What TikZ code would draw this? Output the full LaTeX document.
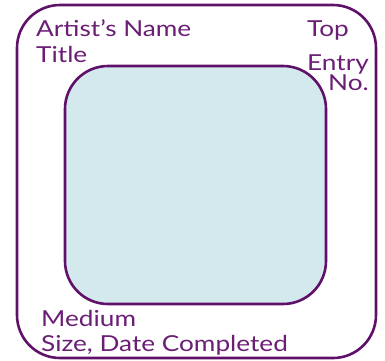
\documentclass[tikz,border=0pt]{standalone}
\usepackage{fontspec}
\setmainfont[FakeStretch=1.19]{Lato}
\definecolor{framepurple}{HTML}{5F1068}
\definecolor{textpurple}{HTML}{6A1E74}
\definecolor{panelblue}{HTML}{D3E9EE}
\begin{document}
\begin{tikzpicture}[x=1pt,y=-1pt,
  frame/.style={draw=framepurple,line width=2.6pt,rounded corners=43pt,inner sep=0pt},
  lbl/.style={text=textpurple,font=\fontsize{22}{25}\selectfont,inner sep=0pt}]
\useasboundingbox (0,0) rectangle (385,360);
\node[frame,minimum width=359pt,minimum height=353pt] (outer) at (196.5,181.5) {};
\node[frame,fill=panelblue,minimum width=261pt,minimum height=238pt] (inner) at (195.5,185) {};
\node[lbl,anchor=base west] (artist) at (36,36) {Artist’s Name};
\node[lbl,anchor=base west] (title) at (36,62) {Title};
\node[lbl,anchor=base east] (top) at (349,36) {Top};
\node[lbl,anchor=base east] (entry) at (369,70) {Entry};
\node[lbl,anchor=base east] (no) at (369,90) {No.};
\node[lbl,anchor=base west] (medium) at (41,326) {Medium};
\node[lbl,anchor=base west] (size) at (41,351) {Size, Date Completed};
\end{tikzpicture}
\end{document}
